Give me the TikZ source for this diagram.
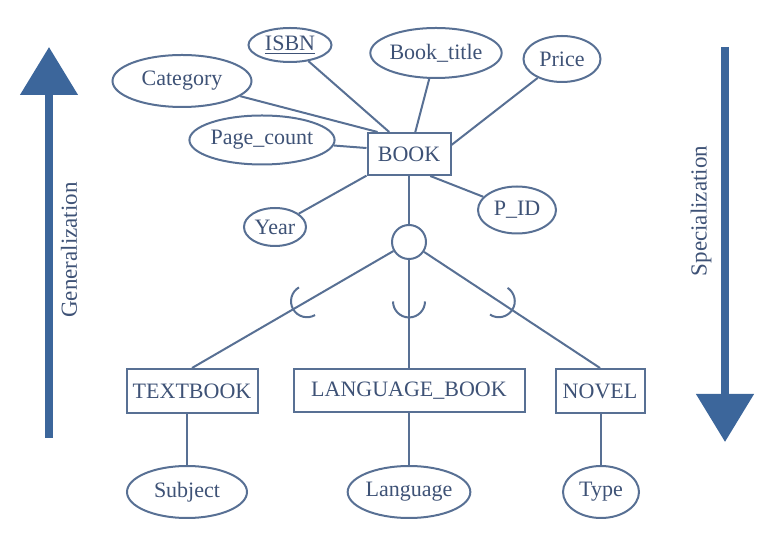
\documentclass[tikz,border=0pt]{standalone}
\usepackage{fontspec}
\setmainfont{Liberation Serif}
\usepackage{tikz}
\usetikzlibrary{arrows.meta, positioning, shapes.geometric, calc}
\usepackage{xcolor}
\definecolor{erline}{RGB}{88,112,148}
\definecolor{ertext}{RGB}{62,82,118}
\definecolor{erarrow}{RGB}{60,102,155}

\begin{document}
\begin{tikzpicture}[x=0.5pt, y=-0.5pt,
    ent/.style={draw=erline, line width=1pt, rectangle, inner sep=0pt, text=ertext, font=\fontsize{11}{13}\selectfont},
    attr/.style={draw=erline, line width=1pt, ellipse, inner sep=0pt, text=ertext, font=\fontsize{11}{13}\selectfont},
    link/.style={draw=erline, line width=1pt},
    bigarr/.style={line width=4pt, erarrow, -{Triangle[width=28pt, length=24pt]}},
    side/.style={text=ertext, font=\fontsize{11.5}{13}\selectfont, rotate=90}
]
\useasboundingbox (0,0) rectangle (776,544);

% superclass and its attributes
\node[ent, minimum width=41.5pt, minimum height=21pt] (book) at (409,154) {BOOK};
\node[attr, minimum width=41.5pt, minimum height=17pt] (isbn) at (290,45) {\underline{ISBN}};
\node[attr, minimum width=59pt, minimum height=25pt] (btitle) at (436,53) {Book\_title};
\node[attr, minimum width=38.5pt, minimum height=23pt] (price) at (562,59) {Price};
\node[attr, minimum width=69.5pt, minimum height=26pt] (cat) at (182,81) {Category};
\node[attr, minimum width=70.5pt, minimum height=24.5pt] (pcount) at (262,140) {Page\_count};
\node[attr, minimum width=31pt, minimum height=19pt] (year) at (275,227) {Year};
\node[attr, minimum width=39pt, minimum height=23.5pt] (pid) at (517,210) {P\_ID};

\draw[link] (cat) -- (book.145);
\draw[link] (isbn) -- (book.132);
\draw[link] (btitle) -- (book.74);
\draw[link] (price) -- (book.12);
\draw[link] (pcount) -- (book.172);
\draw[link] (year) -- (book.207);
\draw[link] (pid) -- (book.314);

% specialization circle
\node[draw=erline, line width=1pt, circle, minimum size=17pt, inner sep=0pt] (circ) at (409,242) {};
\draw[link] (book) -- (circ);

% subclasses
\node[ent, minimum width=65.5pt, minimum height=22pt] (tb) at (192,391) {TEXTBOOK};
\node[ent, minimum width=115.5pt, minimum height=21.5pt] (lb) at (409,391) {LANGUAGE\_BOOK};
\node[ent, minimum width=44.5pt, minimum height=22pt] (nov) at (600,391) {NOVEL};

\foreach \sub in {tb, lb, nov} {
  \draw[link] (circ) -- (\sub.north);
  \draw[link] let \p1 = ($(\sub.north)-(circ)$), \n1 = {atan2(\y1,\x1)} in
    ($(circ)!0.47!(\sub.north)$) ++(\n1-90:8pt) arc[start angle=\n1-90, delta angle=180, radius=8pt];
}

% subclass attributes
\node[attr, minimum width=60pt, minimum height=26pt] (subj) at (187,492) {Subject};
\node[attr, minimum width=60.5pt, minimum height=26pt] (lang) at (409,492) {Language};
\node[attr, minimum width=38pt, minimum height=26pt] (type) at (601,492) {Type};

\draw[link] (tb.south -| subj) -- (subj);
\draw[link] (lb) -- (lang);
\draw[link] (nov.south -| type) -- (type);

% side arrows
\draw[bigarr] (49,438) -- (49,47);
\node[side] (gen) at (69,250) {Generalization};
\draw[bigarr] (725,47) -- (725,442);
\node[side] (spec) at (701,211) {Specialization};
\end{tikzpicture}
\end{document}
